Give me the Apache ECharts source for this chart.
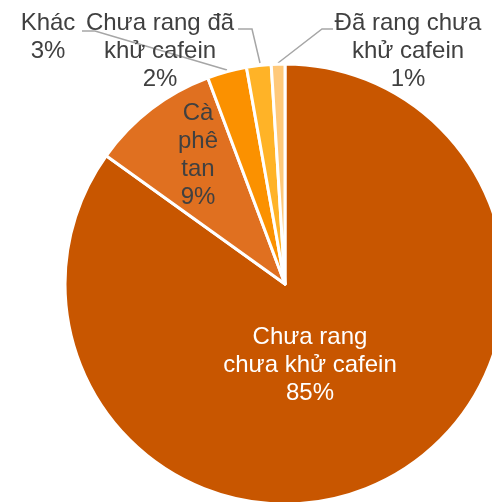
<!DOCTYPE html>
<html>
<head>
<meta charset="utf-8">
<script src="https://cdn.jsdelivr.net/npm/echarts@6/dist/echarts.min.js"></script>
<style>
html, body { margin: 0; padding: 0; background: #fff; }
#main { width: 492px; height: 502px; }
</style>
</head>
<body>
<div id="main"></div>
<script>
var names = ['Chưa rang\nchưa khử cafein', 'Cà\nphê\ntan', 'Khác', 'Chưa rang đã\nkhử cafein', 'Đã rang chưa\nkhử cafein'];
var values = [84.9, 9.4, 2.9, 1.8, 1.0];
var colors = ['#C85600', '#E07020', '#FB9100', '#FFB327', '#FFC97A'];

// label placement, like the original slide
var labelPos = [
    { x: 310, y: 365, color: '#fff', line: null },
    { x: 198, y: 155, color: '#404040', line: null },
    { x: 48, y: 37, color: '#404040', line: [[82, 31], [95, 31], [227, 70]] },
    { x: 160, y: 51, color: '#404040', line: [[238, 29], [252, 29], [260, 63]] },
    { x: 408, y: 51, color: '#404040', line: [[333, 29], [322, 29], [278, 63]] }
];

var chart = echarts.init(document.getElementById('main'));

var data = names.map(function (n, i) {
    return {
        name: n,
        value: values[i],
        itemStyle: { color: colors[i] },
        label: { color: labelPos[i].color },
        labelLine: { show: !!labelPos[i].line }
    };
});

chart.setOption({
    animation: false,
    series: [{
        type: 'pie',
        center: [285, 284],
        radius: 220,
        startAngle: 90,
        clockwise: true,
        itemStyle: { borderColor: '#fff', borderWidth: 3 },
        label: {
            show: true,
            fontFamily: 'Liberation Sans, Arial, sans-serif',
            fontSize: 24,
            lineHeight: 28,
            align: 'center',
            overflow: 'none',
            formatter: function (p) {
                return p.name + '\n' + Math.round(p.percent) + '%';
            }
        },
        labelLine: {
            show: true,
            lineStyle: { color: '#A6A6A6', width: 1.5 }
        },
        labelLayout: function (params) {
            var lp = labelPos[params.dataIndex];
            var out = { x: lp.x, y: lp.y, align: 'center', verticalAlign: 'middle' };
            if (lp.line) out.labelLinePoints = lp.line;
            return out;
        },
        data: data
    }]
});
</script>
</body>
</html>
